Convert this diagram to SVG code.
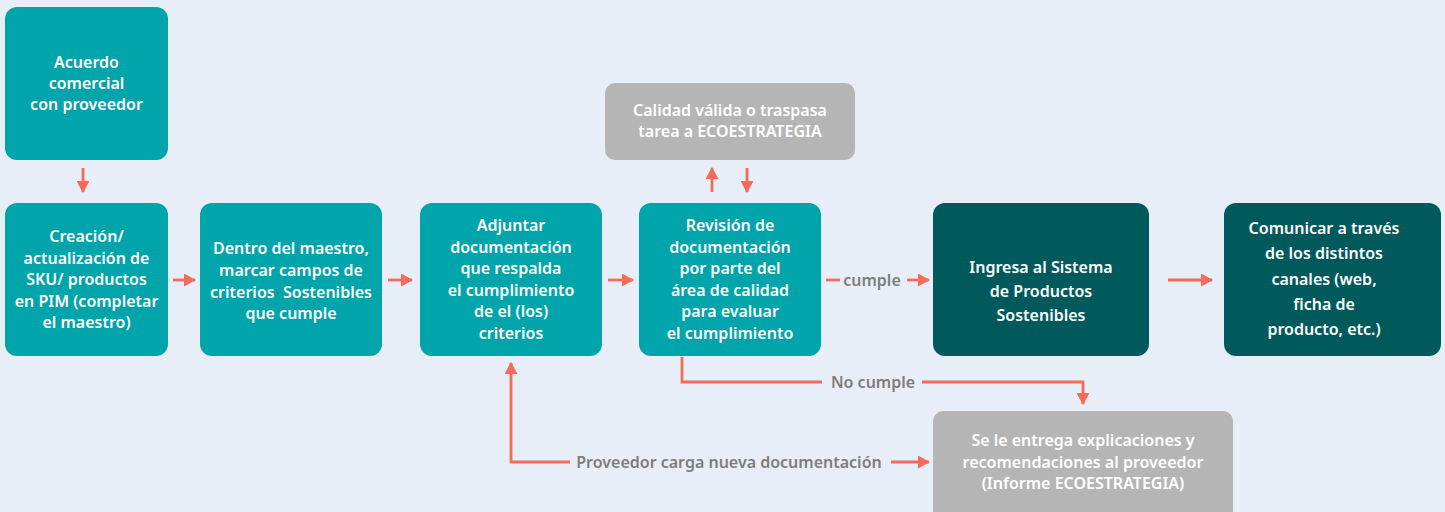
<svg xmlns="http://www.w3.org/2000/svg" width="1445" height="512" viewBox="0 0 1445 512">
<defs>
<marker id="ah" viewBox="0 0 12 13" refX="11" refY="6.5" markerWidth="12" markerHeight="13" markerUnits="userSpaceOnUse" orient="auto">
<path d="M0,0 L12,6.5 L0,13 Z" fill="#f46a5b"/>
</marker>
<style>
.teal{fill:#00a4ab}
.dark{fill:#005a5c}
.gray{fill:#b5b5b5}
.t{font-family:"Noto Sans","Open Sans",sans-serif;font-size:16px;font-weight:600;fill:#ffffff;text-anchor:middle}
.lbl{font-family:"Noto Sans","Open Sans",sans-serif;font-size:16px;font-weight:600;fill:#7d7d7d;text-anchor:middle}
.c{stroke:#f46a5b;stroke-width:2.8;fill:none}
</style>
</defs>
<rect width="1445" height="512" fill="#e8eef7"/>

<g id="n1"><rect class="teal" x="5" y="7" width="163" height="153" rx="12"/>
<text class="t" x="86.5"><tspan x="86.5" y="68">Acuerdo</tspan><tspan x="86.5" y="89">comercial</tspan><tspan x="86.5" y="110">con proveedor</tspan></text></g>

<g id="n2"><rect class="teal" x="5" y="203" width="163" height="153" rx="12"/>
<text class="t"><tspan x="86.5" y="242">Creación/</tspan><tspan x="86.5" y="263.5">actualización de</tspan><tspan x="86.5" y="285">SKU/ productos</tspan><tspan x="86.5" y="306.5">en PIM (completar</tspan><tspan x="86.5" y="328">el maestro)</tspan></text></g>

<g id="n3"><rect class="teal" x="200" y="203" width="182" height="153" rx="12"/>
<text class="t"><tspan x="291" y="254">Dentro del maestro,</tspan><tspan x="291" y="276">marcar campos de</tspan><tspan x="291" y="297.5">criterios&#160; Sostenibles</tspan><tspan x="291" y="319">que cumple</tspan></text></g>

<g id="n4"><rect class="teal" x="420" y="203" width="182" height="153" rx="12"/>
<text class="t"><tspan x="511" y="231">Adjuntar</tspan><tspan x="511" y="252.5">documentación</tspan><tspan x="511" y="274">que respalda</tspan><tspan x="511" y="295.5">el cumplimiento</tspan><tspan x="511" y="317">de el (los)</tspan><tspan x="511" y="338.5">criterios</tspan></text></g>

<g id="n5"><rect class="teal" x="639" y="203" width="182" height="153" rx="12"/>
<text class="t"><tspan x="730" y="231">Revisión de</tspan><tspan x="730" y="252.5">documentación</tspan><tspan x="730" y="274">por parte del</tspan><tspan x="730" y="295.5">área de calidad</tspan><tspan x="730" y="317">para evaluar</tspan><tspan x="730" y="338.5">el cumplimiento</tspan></text></g>

<g id="n6"><rect class="gray" x="605" y="83" width="250" height="77" rx="10"/>
<text class="t"><tspan x="730" y="116">Calidad válida o traspasa</tspan><tspan x="730" y="137">tarea a ECOESTRATEGIA</tspan></text></g>

<g id="n7"><rect class="dark" x="933" y="203" width="216" height="153" rx="12"/>
<text class="t"><tspan x="1041" y="273">Ingresa al Sistema</tspan><tspan x="1041" y="297">de Productos</tspan><tspan x="1041" y="321">Sostenibles</tspan></text></g>

<g id="n8"><rect class="dark" x="1224" y="203" width="217" height="153" rx="12"/>
<text class="t"><tspan x="1324" y="234">Comunicar a través</tspan><tspan x="1324" y="259">de los distintos</tspan><tspan x="1324" y="285">canales (web,</tspan><tspan x="1324" y="310">ficha de</tspan><tspan x="1324" y="335">producto, etc.)</tspan></text></g>

<g id="n9"><rect class="gray" x="933" y="411" width="300" height="110" rx="10"/>
<text class="t"><tspan x="1083" y="446">Se le entrega explicaciones y</tspan><tspan x="1083" y="467.5">recomendaciones al proveedor</tspan><tspan x="1083" y="489">(Informe ECOESTRATEGIA)</tspan></text></g>

<g id="connectors">
<line class="c" x1="83" y1="168" x2="83" y2="192" marker-end="url(#ah)"/>
<line class="c" x1="173" y1="280" x2="195" y2="280" marker-end="url(#ah)"/>
<line class="c" x1="388" y1="280" x2="412" y2="280" marker-end="url(#ah)"/>
<line class="c" x1="608" y1="280" x2="633" y2="280" marker-end="url(#ah)"/>
<line class="c" x1="826" y1="280" x2="840" y2="280"/>
<text class="lbl" x="872" y="285.5">cumple</text>
<line class="c" x1="907" y1="280" x2="929" y2="280" marker-end="url(#ah)"/>
<line class="c" x1="1168" y1="280" x2="1212" y2="280" marker-end="url(#ah)"/>
<line class="c" x1="712" y1="192" x2="712" y2="168" marker-end="url(#ah)"/>
<line class="c" x1="747" y1="168" x2="747" y2="192" marker-end="url(#ah)"/>
<polyline class="c" points="682,357 682,382 822,382"/>
<polyline class="c" points="922,382 1083,382 1083,404" marker-end="url(#ah)"/>
<text class="lbl" x="873" y="388">No cumple</text>
<polyline class="c" points="570,462 511,462 511,363" marker-end="url(#ah)"/>
<text class="lbl" x="729" y="468">Proveedor carga nueva documentación</text>
<line class="c" x1="891" y1="462" x2="929" y2="462" marker-end="url(#ah)"/>
</g>
</svg>
